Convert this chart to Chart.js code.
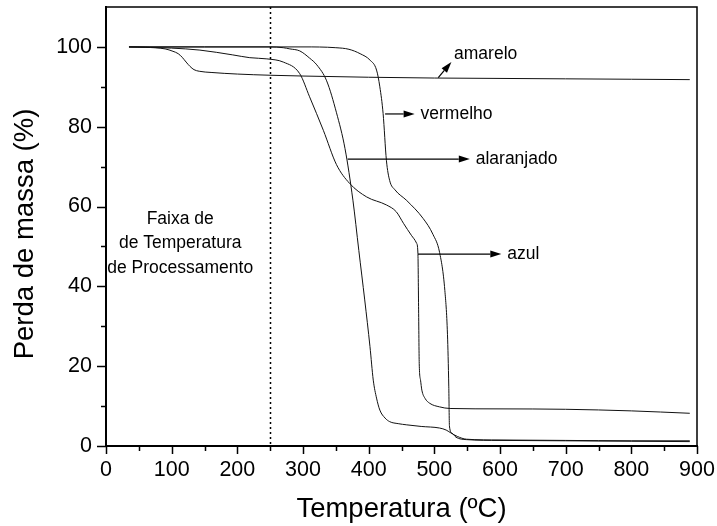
<!DOCTYPE html>
<html>
<head>
<meta charset="utf-8">
<script src="https://cdn.jsdelivr.net/npm/chart.js@4.4.1/dist/chart.umd.min.js"></script>
<style>
  html, body { margin: 0; padding: 0; background: #fff; }
</style>
</head>
<body>
<canvas id="chart" width="717" height="526"></canvas>
<script>
// tick labels
const xTicks = [0, 100, 200, 300, 400, 500, 600, 700, 800, 900];
const yTicks = [0, 20, 40, 60, 80, 100];

// curves: temperature (ºC) and mass (%)
const amareloT = [35, 60, 90, 102, 110, 116, 122, 128, 134, 142, 160, 200, 250, 300, 400, 500, 600, 700, 800, 889];
const amareloV = [100, 99.9, 99.5, 98.9, 98.3, 97.4, 96.2, 95.1, 94.3, 93.9, 93.6, 93.2, 92.9, 92.7, 92.4, 92.2, 92.1, 92.0, 91.9, 91.8];

const vermelhoT = [35, 150, 250, 300, 350, 370, 387, 402, 412, 417, 422, 427, 432, 440, 458, 483, 498, 508, 516, 520, 522, 523, 527, 533, 549, 600, 700, 800, 889];
const vermelhoV = [100, 100, 100, 100, 99.8, 99.4, 98.3, 96.7, 94.2, 90, 83.3, 71.6, 66.5, 64.2, 61.5, 57, 53, 48.5, 39, 28, 15, 5, 3.2, 2.2, 1.6, 1.4, 1.3, 1.2, 1.1];

const alaranjadoT = [35, 150, 250, 270, 280, 295, 310, 321, 336, 351, 364, 376, 385, 394, 402, 407, 412, 417, 425, 432, 445, 458, 480, 508, 518, 524, 535, 549, 600, 700, 800, 889];
const alaranjadoV = [100, 100, 100, 99.8, 99.5, 99.0, 97.2, 95.5, 91.5, 83.5, 74.5, 61.6, 49, 36.6, 24.9, 16.5, 12, 9.0, 7.0, 6.1, 5.6, 5.3, 4.9, 4.5, 4.0, 3.4, 2.4, 1.7, 1.5, 1.4, 1.3, 1.3];

const azulT = [35, 100, 143, 193, 219, 245, 270, 295, 310, 331, 351, 371, 397, 427, 442, 453, 465, 473, 475, 476, 477, 479, 481, 486, 493, 508, 524, 600, 700, 800, 889];
const azulV = [100, 99.7, 99.2, 98.0, 97.3, 97.0, 96.2, 93.3, 87.5, 79.1, 70.5, 65.8, 62.4, 60.4, 58.7, 55.8, 52.8, 50.8, 48.3, 35, 20.7, 16.5, 14.0, 11.9, 10.7, 9.8, 9.4, 9.3, 9.2, 8.8, 8.2];

// arrow labels (data units)
const arrowLabels = ['amarelo', 'vermelho', 'alaranjado', 'azul'];
const arrowFromT = [506, 425, 368, 475];
const arrowFromV = [92.3, 83.2, 71.9, 48.1];
const arrowToT = [526, 470, 554, 602];
const arrowToV = [96.2, 83.2, 71.9, 48.1];
const labelT = [530, 479, 563, 611];
const labelV = [98.2, 83.2, 71.9, 48.1];

// processing temperature band
const processLimit = 250;
const bandText = ['Faixa de', 'de Temperatura', 'de Processamento'];
const bandT = 113;
const bandV = [56.8, 50.8, 44.6];

const yTitle = 'Perda de massa (%)';
const xTitle = 'Temperatura (ºC)';

const FONT = "'Liberation Sans', Arial, sans-serif";

function pts(t, v) {
  return t.map((x, i) => ({ x: x, y: v[i] }));
}

function curve(label, t, v) {
  return {
    label: label,
    data: pts(t, v),
    borderColor: '#111',
    borderWidth: 1,
    pointRadius: 0,
    fill: false,
    cubicInterpolationMode: 'monotone'
  };
}

const extras = {
  id: 'extras',
  afterDatasetsDraw(chart) {
    const ctx = chart.ctx;
    const a = chart.chartArea;
    const xs = chart.scales.x, ys = chart.scales.y;
    ctx.save();

    // frame top / right
    ctx.strokeStyle = '#000';
    ctx.lineWidth = 1.5;
    ctx.beginPath();
    ctx.moveTo(a.left, a.top);
    ctx.lineTo(a.right, a.top);
    ctx.lineTo(a.right, a.bottom);
    ctx.stroke();

    // outward ticks, major and minor
    ctx.lineWidth = 1.5;
    ctx.beginPath();
    for (let v = 0; v <= 100; v += 10) {
      const y = Math.round(ys.getPixelForValue(v)) + 0.5;
      const len = v % 20 === 0 ? 9 : 5;
      ctx.moveTo(a.left - len, y);
      ctx.lineTo(a.left, y);
    }
    for (let v = 0; v <= 900; v += 50) {
      const x = Math.round(xs.getPixelForValue(v)) + 0.5;
      const len = v % 100 === 0 ? 8 : 5;
      ctx.moveTo(x, a.bottom);
      ctx.lineTo(x, a.bottom + len);
    }
    ctx.stroke();

    // dotted line at the processing limit
    ctx.lineWidth = 1.5;
    ctx.setLineDash([2, 3]);
    ctx.beginPath();
    const px = Math.round(xs.getPixelForValue(processLimit)) + 0.5;
    ctx.moveTo(px, a.top);
    ctx.lineTo(px, a.bottom);
    ctx.stroke();
    ctx.setLineDash([]);

    // arrows
    ctx.lineWidth = 1.2;
    ctx.fillStyle = '#000';
    for (let i = 0; i < arrowLabels.length; i++) {
      const x1 = xs.getPixelForValue(arrowFromT[i]);
      const y1 = ys.getPixelForValue(arrowFromV[i]);
      const x2 = xs.getPixelForValue(arrowToT[i]);
      const y2 = ys.getPixelForValue(arrowToV[i]);
      const ang = Math.atan2(y2 - y1, x2 - x1);
      const hl = 11, hw = 3.5;
      ctx.beginPath();
      ctx.moveTo(x1, y1);
      ctx.lineTo(x2 - hl * Math.cos(ang), y2 - hl * Math.sin(ang));
      ctx.stroke();
      ctx.beginPath();
      ctx.moveTo(x2, y2);
      ctx.lineTo(x2 - hl * Math.cos(ang) - hw * Math.sin(ang), y2 - hl * Math.sin(ang) + hw * Math.cos(ang));
      ctx.lineTo(x2 - hl * Math.cos(ang) + hw * Math.sin(ang), y2 - hl * Math.sin(ang) - hw * Math.cos(ang));
      ctx.closePath();
      ctx.fill();

      ctx.font = '17.5px ' + FONT;
      ctx.textAlign = 'left';
      ctx.textBaseline = 'middle';
      ctx.fillText(arrowLabels[i], xs.getPixelForValue(labelT[i]), ys.getPixelForValue(labelV[i]));
    }

    // band text
    ctx.font = '17.5px ' + FONT;
    ctx.textAlign = 'center';
    ctx.textBaseline = 'middle';
    for (let i = 0; i < bandText.length; i++) {
      ctx.fillText(bandText[i], xs.getPixelForValue(bandT), ys.getPixelForValue(bandV[i]));
    }

    // axis titles
    ctx.font = '27.5px ' + FONT;
    ctx.fillText(xTitle, (a.left + a.right) / 2, 509);
    ctx.translate(25, 234);
    ctx.rotate(-Math.PI / 2);
    ctx.fillText(yTitle, 0, 0);
    ctx.restore();
  }
};

const ctx = document.getElementById('chart').getContext('2d');
new Chart(ctx, {
  type: 'line',
  data: {
    datasets: [
      curve('amarelo', amareloT, amareloV),
      curve('vermelho', vermelhoT, vermelhoV),
      curve('alaranjado', alaranjadoT, alaranjadoV),
      curve('azul', azulT, azulV)
    ]
  },
  options: {
    responsive: false,
    animation: false,
    devicePixelRatio: 1,
    layout: { padding: { top: 7, right: 20, left: 0, bottom: 0 } },
    plugins: { legend: { display: false }, tooltip: { enabled: false } },
    scales: {
      x: {
        type: 'linear',
        min: 0,
        max: 900,
        afterBuildTicks: s => { s.ticks = xTicks.map(v => ({ value: v })); },
        afterFit: s => { s.height = 80; s.paddingLeft = 0; s.paddingRight = 0; },
        grid: { display: false, drawTicks: false },
        border: { display: true, color: '#000', width: 2 },
        ticks: { color: '#000', font: { family: FONT, size: 21.5 }, padding: 11, maxRotation: 0 }
      },
      y: {
        type: 'linear',
        min: 0,
        max: 110,
        afterBuildTicks: s => { s.ticks = yTicks.map(v => ({ value: v })); },
        afterFit: s => { s.width = 106; s.paddingTop = 0; s.paddingBottom = 0; },
        grid: { display: false, drawTicks: false },
        border: { display: true, color: '#000', width: 2 },
        ticks: { color: '#000', font: { family: FONT, size: 21.5 }, padding: 14 }
      }
    }
  },
  plugins: [extras]
});
</script>
</body>
</html>
